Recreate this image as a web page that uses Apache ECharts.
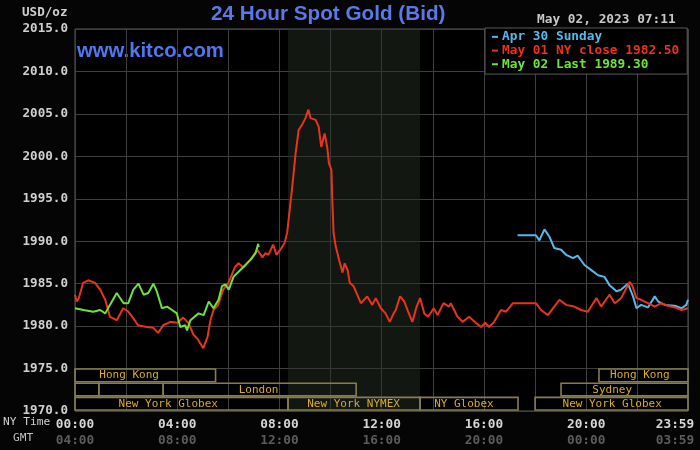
<!DOCTYPE html>
<html><head><meta charset="utf-8">
<script src="https://cdn.jsdelivr.net/npm/echarts@6/dist/echarts.min.js"></script>
<style>html,body{margin:0;padding:0;background:#050505;}#c{width:700px;height:450px;}</style>
</head><body><div id="c"></div>
<script>
// ---- data (minutes after 00:00 NY time, USD/oz) ----
const seriesNames = ['Apr 30 Sunday', 'May 01 NY close 1982.50', 'May 02 Last 1989.30'];
const yTicks = [1970, 2015, 5];
const apr30Points = [[1039,1990.7],[1082,1990.7],[1090,1990.1],[1102,1991.4],[1114,1990.5],[1125,1989.2],[1141,1989.0],[1153,1988.4],[1169,1988.0],[1180,1988.3],[1196,1987.2],[1212,1986.6],[1228,1986.0],[1243,1985.8],[1255,1984.8],[1271,1984.1],[1282,1984.3],[1298,1985.0],[1310,1983.5],[1318,1982.1],[1329,1982.5],[1345,1982.2],[1361,1983.5],[1369,1982.9],[1384,1982.5],[1408,1982.4],[1424,1982.1],[1435,1982.5],[1439,1983.1]];
const may01Points = [[0,1983.7],[4,1982.9],[9,1983.3],[19,1985.1],[31,1985.4],[47,1985.1],[59,1984.3],[71,1983.1],[82,1981.1],[98,1980.7],[113,1982.1],[125,1981.7],[136,1981.0],[148,1980.1],[169,1979.9],[184,1979.8],[195,1979.2],[207,1980.1],[224,1980.5],[240,1980.4],[254,1981.0],[266,1980.4],[278,1979.0],[289,1978.4],[301,1977.4],[311,1978.7],[318,1980.7],[325,1981.9],[336,1982.5],[348,1984.3],[360,1985.1],[376,1987.0],[384,1987.4],[395,1986.9],[416,1988.1],[428,1989.0],[440,1988.1],[447,1988.6],[454,1988.4],[465,1989.6],[473,1988.4],[482,1989.0],[492,1989.8],[498,1991.0],[504,1993.7],[510,1996.4],[518,2000.4],[525,2003.1],[533,2003.7],[541,2004.5],[548,2005.5],[553,2004.5],[565,2004.3],[572,2003.5],[578,2001.1],[586,2002.7],[592,2001.1],[596,1999.2],[602,1998.4],[604,1994.9],[607,1991.0],[612,1989.4],[620,1987.8],[628,1986.3],[633,1987.4],[640,1986.6],[645,1985.1],[654,1984.7],[671,1982.7],[686,1983.5],[698,1982.5],[706,1983.3],[718,1982.1],[729,1981.5],[739,1980.5],[748,1981.5],[753,1981.9],[763,1983.5],[773,1982.9],[782,1981.7],[792,1980.5],[802,1982.3],[810,1983.3],[820,1981.5],[829,1981.1],[842,1982.1],[851,1981.3],[865,1982.7],[878,1982.3],[882,1982.7],[898,1981.1],[910,1980.5],[925,1981.1],[941,1980.4],[953,1979.9],[963,1980.4],[972,1979.9],[984,1980.5],[1000,1981.9],[1012,1981.7],[1028,1982.7],[1082,1982.7],[1094,1981.9],[1110,1981.3],[1122,1982.1],[1137,1983.1],[1153,1982.5],[1172,1982.3],[1188,1981.9],[1204,1981.7],[1224,1983.3],[1235,1982.3],[1255,1983.7],[1267,1982.7],[1282,1983.3],[1302,1985.2],[1308,1984.8],[1318,1983.3],[1329,1983.1],[1345,1982.7],[1361,1982.3],[1376,1982.7],[1392,1982.4],[1408,1982.2],[1424,1981.9],[1439,1982.1]];
const may02Points = [[0,1982.1],[20,1981.9],[43,1981.7],[59,1981.9],[71,1981.5],[82,1982.5],[98,1983.9],[114,1982.7],[125,1982.7],[137,1984.3],[149,1985.0],[161,1983.7],[172,1983.9],[184,1985.0],[192,1984.1],[204,1982.1],[216,1982.3],[228,1981.9],[239,1981.5],[247,1979.9],[259,1980.1],[263,1979.5],[271,1980.7],[290,1981.5],[302,1981.3],[314,1982.9],[325,1982.1],[337,1983.1],[345,1984.7],[353,1984.9],[361,1984.3],[372,1985.8],[384,1986.4],[396,1987.0],[412,1987.8],[424,1988.6],[430,1989.7],[431,1989.3]];
const nymexHours = [500, 810];
// sessions: name, start, end, row, label-at
const sessions = [
  ['Hong Kong', 0, 330, 0, 127],
  ['Hong Kong', 1230, 1439, 0, 1326],
  ['', 0, 56, 1, 28],
  ['', 56, 207, 1, 130],
  ['London', 207, 660, 1, 431],
  ['Sydney', 1141, 1439, 1, 1261],
  ['New York Globex', 0, 500, 2, 219],
  ['New York NYMEX', 500, 810, 2, 654],
  ['NY Globex', 810, 1040, 2, 913],
  ['New York Globex', 1080, 1439, 2, 1261]
];
const xLabelEvery = 240, gmtOffset = 240, dayEnd = 1439;
const headerDate = 'May 02, 2023 07:11';

const colors = ['#58b8ea', '#e8341e', '#6ee43a'];
const MONO = '"DejaVu Sans Mono", monospace';
function hhmm(m){ m = ((m % 1440) + 1440) % 1440; const h = Math.floor(m/60), mm = m%60; return String(h).padStart(2,'0')+':'+String(mm).padStart(2,'0'); }

const chart = echarts.init(document.getElementById('c'));
const labA = { color: '#d6d6d6', fontFamily: MONO, fontWeight: 'bold', fontSize: 12.8, lineHeight: 16 };
const labB = { color: '#5c5c5c', fontFamily: MONO, fontWeight: 'bold', fontSize: 12.8, lineHeight: 16 };
chart.setOption({
  backgroundColor: '#050505',
  animation: false,
  grid: { left: 75, right: 12, top: 29, bottom: 39, show: true, backgroundColor: '#000', borderColor: '#5a5a5a', borderWidth: 1, containLabel: false, outerBoundsMode: 'none' },
  xAxis: {
    type: 'value', min: 0, max: dayEnd, interval: 120,
    axisLine: { show: false }, axisTick: { show: false },
    splitLine: { show: true, lineStyle: { color: '#3f3f3f', width: 1 } },
    axisLabel: {
      margin: 6, hideOverlap: false,
      formatter: function(v){
        if (v === dayEnd) return '{c|' + hhmm(v) + '}\n{d|' + hhmm(v + gmtOffset) + '}';
        if (v % xLabelEvery === 0) return '{a|' + hhmm(v) + '}\n{b|' + hhmm(v + gmtOffset) + '}';
        return '';
      },
      rich: {
        a: labA, b: labB,
        c: Object.assign({}, labA, { padding: [0, 26, 0, 0] }),
        d: Object.assign({}, labB, { padding: [0, 26, 0, 0] })
      }
    }
  },
  yAxis: {
    type: 'value', min: yTicks[0], max: yTicks[1], interval: yTicks[2],
    axisLine: { show: false }, axisTick: { show: false },
    splitLine: { show: true, lineStyle: { color: '#3f3f3f', width: 1 } },
    axisLabel: { margin: 7, color: '#d0d0d0', fontFamily: MONO, fontWeight: 'bold', fontSize: 12.6, formatter: v => v.toFixed(1) }
  },
  legend: {
    orient: 'vertical', left: 485, top: 28,
    padding: [2, 8, 3, 7], itemGap: 0,
    backgroundColor: '#000', borderColor: '#5a5a5a', borderWidth: 1,
    icon: 'rect', itemWidth: 6, itemHeight: 2,
    textStyle: { fontFamily: MONO, fontWeight: 'bold', fontSize: 12.8, lineHeight: 13.7, padding: [0,0,0,-1] },
    data: seriesNames.map((n, i) => ({ name: n, textStyle: { color: colors[i] } }))
  },
  graphic: [
    { type: 'text', left: 22, top: 6, style: { text: 'USD/oz', fill: '#d0d0d0', font: 'bold 12.6px ' + MONO } },
    { type: 'text', left: 211, top: 4, style: { text: '24 Hour Spot Gold (Bid)', fill: '#5a78e8', font: 'bold 20.7px "Liberation Sans", Arial, sans-serif' } },
    { type: 'text', left: 77, top: 41, style: { text: 'www.kitco.com', fill: '#4f78f0', font: 'bold 20.3px "Liberation Sans", Arial, sans-serif' } },
    { type: 'text', left: 537, top: 13, style: { text: headerDate, fill: '#c8c8c8', font: 'bold 12.8px ' + MONO } },
    { type: 'text', left: 3, top: 417, style: { text: 'NY Time', fill: '#d0d0d0', font: '11.2px ' + MONO } },
    { type: 'text', left: 13, top: 433, style: { text: 'GMT', fill: '#c0c0c0', font: '11.2px ' + MONO } }
  ],
  series: [
    {
      name: seriesNames[0], type: 'line', data: apr30Points, showSymbol: false, symbol: 'none',
      color: colors[0], lineStyle: { width: 2, color: colors[0] }, z: 3
    },
    {
      name: seriesNames[1], type: 'line', data: may01Points, showSymbol: false, symbol: 'none',
      color: colors[1], lineStyle: { width: 2, color: colors[1] }, z: 4,
      markArea: { silent: true, itemStyle: { color: 'rgba(40,52,40,0.45)' }, data: [[{ xAxis: nymexHours[0] }, { xAxis: nymexHours[1] }]] }
    },
    {
      name: seriesNames[2], type: 'line', data: may02Points, showSymbol: false, symbol: 'none',
      color: colors[2], lineStyle: { width: 2, color: colors[2] }, z: 5
    },
    {
      type: 'custom', silent: true, z: 6,
      data: sessions.map(s => [s[1], s[2], s[3], s[4]]),
      renderItem: function(params, api){
        const top = api.coord([0, 1975])[1];
        const bottom = api.coord([0, 1970])[1];
        const rowH = (bottom - top) / 3;
        const row = api.value(2);
        const x0 = api.coord([api.value(0), 1975])[0];
        const x1 = api.coord([api.value(1), 1975])[0];
        const xl = api.coord([api.value(3), 1975])[0];
        const y = top + row * rowH;
        const name = sessions[params.dataIndex][0];
        return {
          type: 'group',
          children: [
            { type: 'rect', shape: { x: x0, y: y + 0.5, width: x1 - x0, height: rowH - 1.5 },
              style: { fill: 'none', stroke: '#877d52', lineWidth: 1.6 } },
            { type: 'text', style: { text: name, x: xl, y: y + rowH / 2, align: 'center', verticalAlign: 'middle',
              fill: '#d6ab2e', font: '11px ' + MONO } }
          ]
        };
      }
    }
  ]
});
</script></body></html>
